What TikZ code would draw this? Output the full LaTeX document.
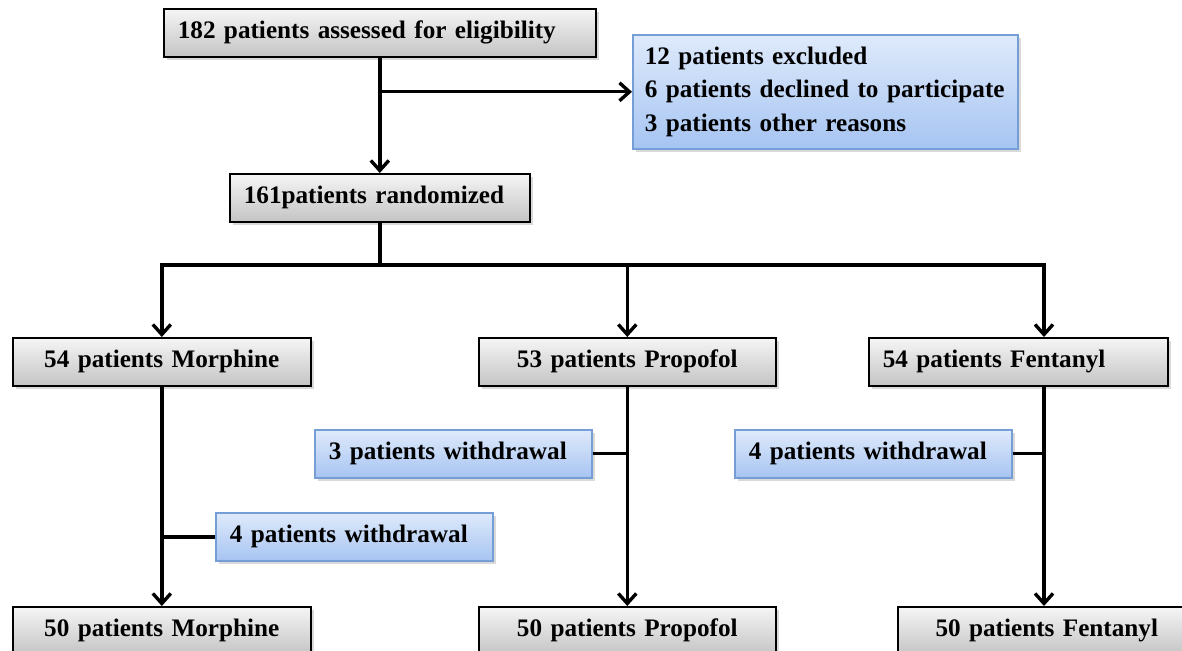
\documentclass[tikz,border=0pt]{standalone}
\usepackage{fontspec}
\setmainfont{Liberation Serif}
\usepackage{tikz}
\usetikzlibrary{arrows.meta,shadows}
\definecolor{grayTop}{RGB}{245,245,245}
\definecolor{grayBot}{RGB}{196,196,196}
\definecolor{blueTop}{RGB}{223,234,251}
\definecolor{blueBot}{RGB}{166,196,242}
\definecolor{blueLine}{RGB}{118,158,214}
\tikzset{%
  tipV/.tip={Straight Barb[length=5pt,width=9pt]},
  graybox/.style={draw=black, line width=0.8pt, top color=grayTop, bottom color=grayBot,
    anchor=north west, minimum height=24pt, inner xsep=7pt,
    font=\fontsize{12.6}{16.75}\selectfont\bfseries,
    drop shadow={shadow xshift=1.5pt,shadow yshift=-1.5pt,opacity=.3}},
  bluebox/.style={graybox, draw=blueLine, top color=blueTop, bottom color=blueBot},
  flow/.style={line width=1.7pt}
}

\begin{document}
\begin{tikzpicture}[x=0.5pt,y=-0.5pt]
\clip (0,0) rectangle (1182,651);
% screening
\node[graybox, text width=202pt, align=left] (screen) at (163,8) {182 patients assessed for eligibility};
\node[bluebox, text width=180.5pt, inner xsep=6pt, align=left, minimum height=57pt] (excl) at (632,34)
  {\mbox{12 patients excluded}\\\mbox{6 patients declined to participate}\\\mbox{3 patients other reasons}};
\node[graybox, text width=136pt, align=left] (rand) at (229,173) {161patients randomized};
% groups
\node[graybox, text width=135pt, align=center] (mor1) at (12,337) {54 patients Morphine};
\node[graybox, text width=134.5pt, align=center] (pro1) at (478,337) {53 patients Propofol};
\node[graybox, text width=135.5pt, align=left] (fen1) at (868,337) {54 patients Fentanyl};
% withdrawals
\node[bluebox, text width=124.5pt, align=left] (wdp) at (314,429) {3 patients withdrawal};
\node[bluebox, text width=124.5pt, align=left] (wdf) at (734,429) {4 patients withdrawal};
\node[bluebox, text width=124.5pt, align=left] (wdm) at (215,512) {4 patients withdrawal};
% analysed
\node[graybox, text width=135pt, align=center] (mor2) at (12,606) {50 patients Morphine};
\node[graybox, text width=134.5pt, align=center] (pro2) at (478,606) {50 patients Propofol};
\node[graybox, text width=135pt, align=center] (fen2) at (897,606) {50 patients Fentanyl};
\coordinate (fx) at (1044,265);
\draw[flow,-tipV] (screen.south) -- (screen.south |- rand.north);
\draw[flow,-tipV] (screen.south |- excl.west) -- (excl.west);
\draw[flow] (rand.south) -- (rand.south |- fx) coordinate (split);
\draw[flow,-tipV] (split) -| (mor1.north);
\draw[flow,-tipV] (split) -| (pro1.north);
\draw[flow,-tipV] (split) -| (fen1.north -| fx);
\draw[flow,-tipV] (mor1.south) -- (mor2.north);
\draw[flow,-tipV] (pro1.south) -- (pro2.north);
\draw[flow,-tipV] (fen1.south -| fx) -- (fen2.north -| fx);
\draw[flow] (wdm.west) -- (wdm.west -| mor1.south);
\draw[flow] (wdp.east) -- (wdp.east -| pro1.south);
\draw[flow] (wdf.east) -- (wdf.east -| fx);
\end{tikzpicture}
\end{document}
